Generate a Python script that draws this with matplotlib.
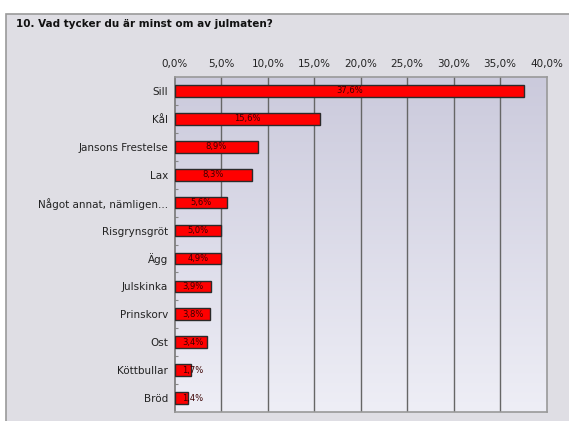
import numpy as np
import matplotlib.pyplot as plt
from matplotlib.patches import Rectangle
from matplotlib.colors import LinearSegmentedColormap
from matplotlib.ticker import FixedLocator

title = "10. Vad tycker du är minst om av julmaten?"
categories = ["Sill", "Kål", "Jansons Frestelse", "Lax", "Något annat, nämligen...",
              "Risgrynsgröt", "Ägg", "Julskinka", "Prinskorv", "Ost", "Köttbullar", "Bröd"]
values = [37.6, 15.6, 8.9, 8.3, 5.6, 5.0, 4.9, 3.9, 3.8, 3.4, 1.7, 1.4]
xticks = [0, 5, 10, 15, 20, 25, 30, 35, 40]

plt.rcParams['font.family'] = ['DejaVu Sans']

fig = plt.figure(figsize=(5.69, 4.21), dpi=100)
fig.patch.set_facecolor('white')

# outer grey panel (runs off the right and bottom edges)
panel = Rectangle((6 / 569, -0.05), 1.1, (421 - 14) / 421 + 0.05, transform=fig.transFigure,
                  facecolor='#dfdee4', edgecolor='#9a9a9a', linewidth=1.2, zorder=-10)
fig.patches.append(panel)

fig.text(16 / 569, 1 - 24 / 421, title, fontsize=7.5, fontweight='bold',
         ha='left', va='center', color='#111111')

ax = fig.add_axes([175 / 569, 9 / 421, 371.5 / 569, 335 / 421])

# background gradient
cmap = LinearSegmentedColormap.from_list('bg', ['#cbcadc', '#eeeef6'])
grad = np.linspace(0, 1, 256).reshape(-1, 1)
ax.imshow(grad, extent=[0, 40, 11.5, -0.5], aspect='auto', cmap=cmap, zorder=0)

y = np.arange(len(categories))
ax.barh(y, values, height=0.42, color='#ff0000', edgecolor='#2a2a2a', linewidth=1.0, zorder=3)

for yi, v in zip(y, values):
    ax.text(max(v / 2, 1.95), yi, f"{v:.1f}%".replace('.', ','), fontsize=6,
            ha='center', va='center', color='#3a0000', zorder=4)

ax.set_xlim(0, 40)
ax.set_ylim(11.5, -0.5)
ax.set_yticks(y)
ax.set_yticklabels(categories, fontsize=7.5, color='#222222')
ax.yaxis.set_minor_locator(FixedLocator(np.arange(0.5, 11, 1)))
ax.tick_params(axis='y', which='major', length=0, pad=5)
ax.tick_params(axis='y', which='minor', length=2, direction='in', color='#888888', width=0.8)

ax.xaxis.tick_top()
ax.set_xticks(xticks)
ax.set_xticklabels([f"{t:.1f}%".replace('.', ',') for t in xticks], fontsize=7.5, color='#222222')
ax.tick_params(axis='x', length=0, pad=6)

for t in xticks[1:-1]:
    ax.axvline(t, color='#666666', linewidth=1.0, zorder=2)

for s in ax.spines.values():
    s.set_color('#999999')
    s.set_linewidth(1.2)
ax.spines['left'].set_color('#777777')

fig.savefig('out.png', dpi=100)
